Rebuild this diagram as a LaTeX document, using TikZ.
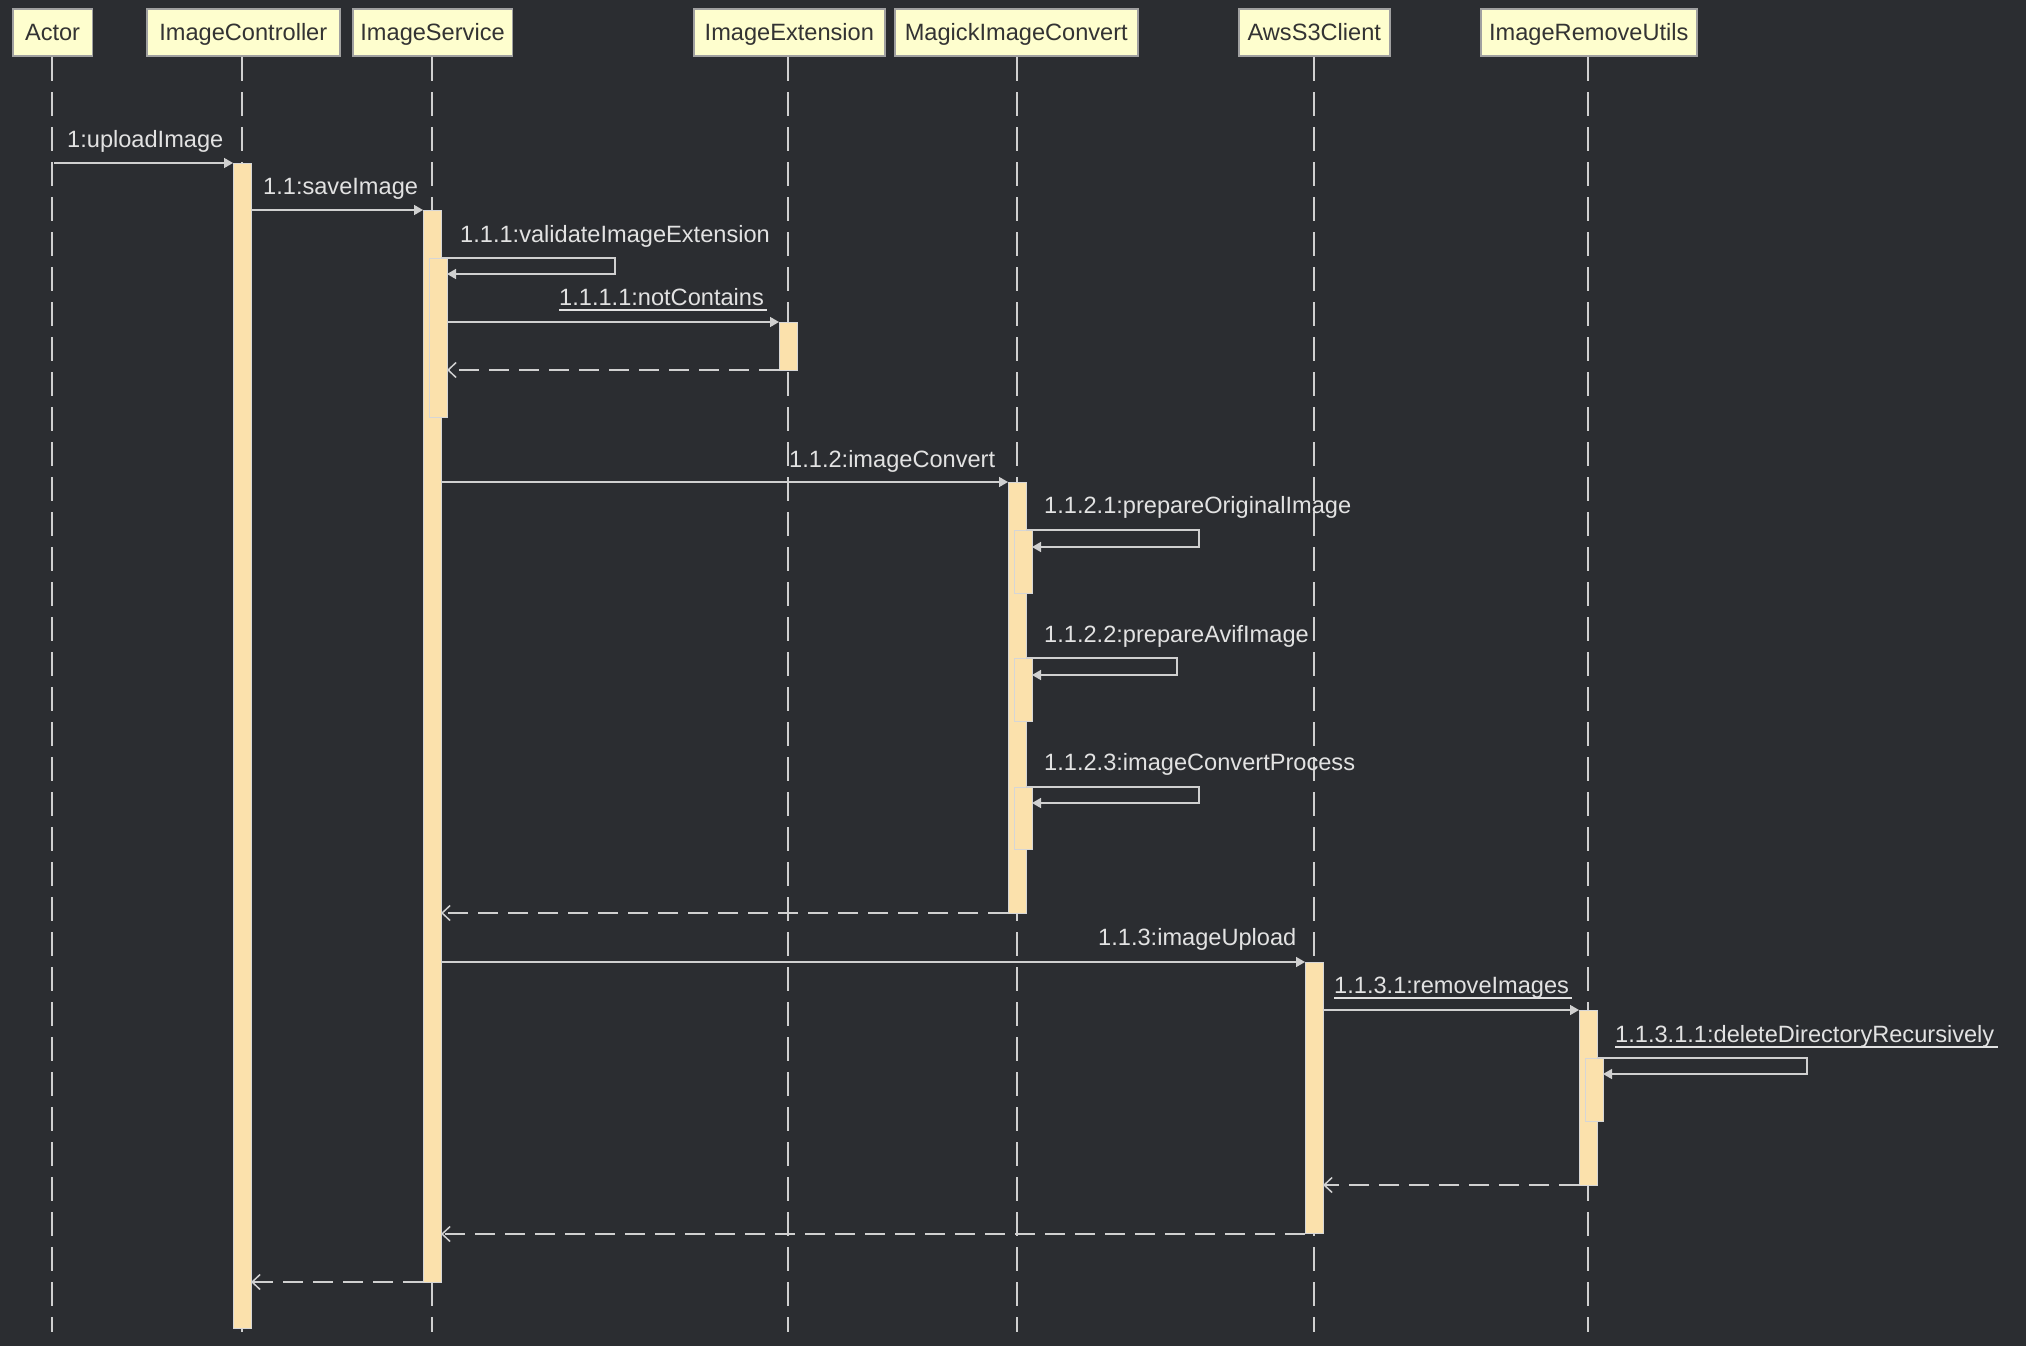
\documentclass[tikz,border=0pt]{standalone}
\usepackage{fontspec}
\setmainfont{Liberation Sans}
\usetikzlibrary{arrows.meta}
\definecolor{bg}{HTML}{2B2D31}
\definecolor{headfill}{HTML}{FEFECE}
\definecolor{headline}{HTML}{A0A0A0}
\definecolor{headtext}{HTML}{333333}
\definecolor{barfill}{HTML}{FBE1AC}
\definecolor{barline}{HTML}{D6D6D6}
\definecolor{wire}{HTML}{D0D0D0}
\definecolor{msgtext}{HTML}{E2E2E2}
\begin{document}
\begin{tikzpicture}[x=1pt,y=-1pt,
  font=\fontsize{23.6}{28}\selectfont,
  head/.style={draw=headline,line width=1.6pt,fill=headfill,text=headtext,inner sep=0pt,
    text height=16.8pt,text depth=0pt,anchor=north west},
  lifeline/.style={draw=wire,line width=1.5pt,dash pattern=on 24pt off 11pt},
  actbar/.style={draw=barline,line width=1pt,fill=barfill},
  call/.style={draw=wire,line width=1.5pt,-{Triangle[length=9pt,width=10pt]}},
  selfcall/.style={draw=wire,line width=1.5pt,-{Triangle[length=9pt,width=10pt]}},
  reply/.style={draw=wire,line width=1.5pt,dash pattern=on 20pt off 10pt,-{Straight Barb[length=8pt,width=15pt,line width=1.5pt]}},
  msg/.style={text=msgtext,anchor=base west,inner sep=0pt},
  uline/.style={draw=msgtext,line width=1.3pt}]

% canvas
\fill[bg] (0,0) rectangle (2026,1346);
\useasboundingbox (0,0) rectangle (2026,1346);

% participant heads
\node[head,minimum width=79.5pt,minimum height=47pt] (actor) at (12,8) {Actor};
\node[head,minimum width=193pt,minimum height=47pt] (ctrl) at (146,8) {ImageController};
\node[head,minimum width=159.5pt,minimum height=47pt] (svc) at (352,8) {ImageService};
\node[head,minimum width=191pt,minimum height=47pt] (ext) at (693,8) {ImageExtension};
\node[head,minimum width=243pt,minimum height=47pt] (magick) at (894,8) {MagickImageConvert};
\node[head,minimum width=151pt,minimum height=47pt] (s3) at (1238,8) {AwsS3Client};
\node[head,minimum width=216pt,minimum height=47pt] (rmu) at (1480,8) {ImageRemoveUtils};

% lifelines
\foreach \p/\x in {actor/52,ctrl/242,svc/432,ext/788,magick/1017,s3/1314,rmu/1588}{
  \coordinate (\p-top) at (\x,57);
  \coordinate (\p-end) at (\x,1332);
  \draw[lifeline] (\p-top) -- (\p-end);
}

% activation bars
\draw[actbar] (233,163) rectangle (251,1328);
\draw[actbar] (423,210) rectangle (441,1282);
\draw[actbar] (429,258) rectangle (447,417);
\draw[actbar] (779,322) rectangle (797,370);
\draw[actbar] (1008,482) rectangle (1026,913);
\draw[actbar] (1014,530) rectangle (1032,593);
\draw[actbar] (1014,658) rectangle (1032,721);
\draw[actbar] (1014,787) rectangle (1032,849);
\draw[actbar] (1305,962) rectangle (1323,1233);
\draw[actbar] (1579,1010) rectangle (1597,1185);
\draw[actbar] (1585,1058) rectangle (1603,1121);

% message end points
\coordinate (m1a) at (54,163);   \coordinate (m1b) at (233,163);
\coordinate (m2a) at (251,210);  \coordinate (m2b) at (423,210);
\coordinate (m3a) at (441,258);  \coordinate (m3b) at (447,274);
\coordinate (m4a) at (447,322);  \coordinate (m4b) at (779,322);
\coordinate (r4a) at (779,370);  \coordinate (r4b) at (447,370);
\coordinate (m5a) at (441,482);  \coordinate (m5b) at (1008,482);
\coordinate (m6a) at (1026,530); \coordinate (m6b) at (1032,547);
\coordinate (m7a) at (1026,658); \coordinate (m7b) at (1032,675);
\coordinate (m8a) at (1026,787); \coordinate (m8b) at (1032,803);
\coordinate (r5a) at (1008,913); \coordinate (r5b) at (441,913);
\coordinate (m9a) at (441,962);  \coordinate (m9b) at (1305,962);
\coordinate (m10a) at (1323,1010); \coordinate (m10b) at (1579,1010);
\coordinate (m11a) at (1597,1058); \coordinate (m11b) at (1603,1074);
\coordinate (r10a) at (1579,1185); \coordinate (r10b) at (1323,1185);
\coordinate (r9a) at (1305,1234); \coordinate (r9b) at (441,1234);
\coordinate (r2a) at (423,1282); \coordinate (r2b) at (251,1282);

% calls
\draw[call] (m1a) -- (m1b);
\draw[call] (m2a) -- (m2b);
\draw[selfcall] (m3a) -| (615,274) -- (m3b);
\draw[call] (m4a) -- (m4b);
\draw[call] (m5a) -- (m5b);
\draw[selfcall] (m6a) -| (1199,547) -- (m6b);
\draw[selfcall] (m7a) -| (1177,675) -- (m7b);
\draw[selfcall] (m8a) -| (1199,803) -- (m8b);
\draw[call] (m9a) -- (m9b);
\draw[call] (m10a) -- (m10b);
\draw[selfcall] (m11a) -| (1807,1074) -- (m11b);

% replies
\draw[reply] (r4a) -- (r4b);
\draw[reply] (r5a) -- (r5b);
\draw[reply] (r10a) -- (r10b);
\draw[reply] (r9a) -- (r9b);
\draw[reply] (r2a) -- (r2b);

% message labels
\node[msg] (t1) at (67,147) {1:uploadImage};
\node[msg] (t2) at (263,194) {1.1:saveImage};
\node[msg] (t3) at (460,242) {1.1.1:validateImageExtension};
\node[msg] (t4) at (559,305) {1.1.1.1:notContains};
\node[msg] (t5) at (789,467) {1.1.2:imageConvert};
\node[msg] (t6) at (1044,513) {1.1.2.1:prepareOriginalImage};
\node[msg] (t7) at (1044,642) {1.1.2.2:prepareAvifImage};
\node[msg] (t8) at (1044,770) {1.1.2.3:imageConvertProcess};
\node[msg] (t9) at (1098,945) {1.1.3:imageUpload};
\node[msg] (t10) at (1334,993) {1.1.3.1:removeImages};
\node[msg] (t11) at (1615,1042) {1.1.3.1.1:deleteDirectoryRecursively};

% underlines of static calls
\draw[uline] ([yshift=-5pt]t4.base west) -- ([xshift=3pt,yshift=-5pt]t4.base east);
\draw[uline] ([yshift=-5pt]t10.base west) -- ([xshift=3pt,yshift=-5pt]t10.base east);
\draw[uline] ([yshift=-5pt]t11.base west) -- ([xshift=3pt,yshift=-5pt]t11.base east);
\end{tikzpicture}
\end{document}
